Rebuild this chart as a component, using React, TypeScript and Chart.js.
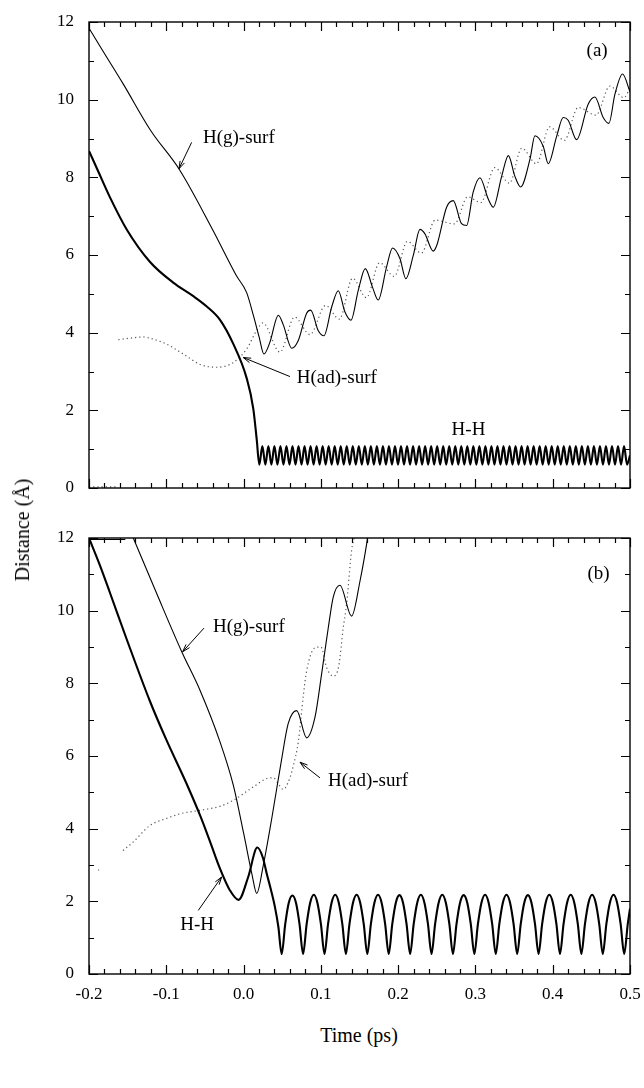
import React, { useEffect, useRef } from 'react';
import { Chart, registerables } from 'chart.js';
Chart.register(...registerables);

const FONT = "'Liberation Serif', 'Times New Roman', serif";

// ---------- Panel (a) ----------
const A_HG: [number, number][] = [
  [-0.2, 11.84], [-0.185, 11.35], [-0.1556, 10.4], [-0.12, 9.2], [-0.0827, 8.19], [-0.04, 6.65],
  [-0.0094, 5.47], [0.004, 5.03], [0.0126, 4.45], [0.02, 3.9], [0.0264, 3.45], [0.034, 3.75],
  [0.045, 4.45], [0.0514, 4.2], [0.0622, 3.6], [0.0708, 3.8], [0.0816, 4.5], [0.0868, 4.58],
  [0.0967, 4.05], [0.104, 3.92], [0.114, 4.66], [0.1225, 5.08], [0.1312, 4.53], [0.139, 4.32],
  [0.1484, 5.09], [0.1575, 5.65], [0.167, 5.16], [0.1742, 4.84], [0.185, 5.69], [0.1928, 6.18],
  [0.2023, 5.91], [0.21, 5.39], [0.2196, 5.99], [0.2282, 6.66], [0.2345, 6.55], [0.2454, 6.1],
  [0.25, 6.25], [0.2627, 7.23], [0.2713, 7.4], [0.282, 6.81], [0.2886, 6.76], [0.297, 7.61],
  [0.3058, 7.99], [0.3166, 7.44], [0.3231, 7.23], [0.334, 8.03], [0.3426, 8.56], [0.351, 8.03],
  [0.3585, 7.75], [0.3705, 8.46], [0.377, 9.07], [0.3877, 8.8], [0.3942, 8.35], [0.405, 9.05],
  [0.4136, 9.54], [0.42, 9.47], [0.431, 8.97], [0.446, 9.89], [0.4546, 10.07], [0.4653, 9.54],
  [0.4727, 9.39], [0.4805, 10.14], [0.4904, 10.66], [0.5, 10.2],
];

const A_AD: [number, number | null][] = [
  [-0.2, 0.03], [-0.165, 0.03], [-0.164, null], [-0.162, 3.82], [-0.146, 3.86], [-0.13, 3.89],
  [-0.115, 3.82], [-0.1, 3.71], [-0.078, 3.45], [-0.056, 3.18], [-0.035, 3.11], [-0.0133, 3.23],
  [0.004, 3.58], [0.017, 4.06], [0.025, 4.25], [0.047, 3.5], [0.066, 4.4], [0.086, 3.95],
  [0.106, 4.7], [0.124, 4.35], [0.141, 5.4], [0.159, 4.9], [0.176, 5.8], [0.195, 5.45],
  [0.212, 6.35], [0.23, 6.05], [0.248, 6.9], [0.273, 6.8], [0.29, 7.5], [0.307, 7.35],
  [0.325, 8.25], [0.344, 7.85], [0.36, 8.75], [0.379, 8.35], [0.396, 9.3], [0.415, 8.95],
  [0.433, 9.8], [0.456, 9.6], [0.474, 10.35], [0.492, 10.05], [0.5, 10.3],
];

const A_HH_PRE: [number, number][] = [
  [-0.2, 8.68], [-0.188, 8.15], [-0.173, 7.49], [-0.151, 6.65], [-0.121, 5.82], [-0.091, 5.29],
  [-0.065, 4.94], [-0.048, 4.68], [-0.0305, 4.33], [-0.0133, 3.71], [0.004, 2.83], [0.0126, 2.04],
  [0.017, 1.25],
];

const A_HH_OSC_T = [
  0.0204, 0.0243, 0.0282, 0.0321, 0.0360, 0.0399, 0.0438, 0.0477, 0.0516, 0.0555,
  0.0594, 0.0633, 0.0672, 0.0711, 0.0750, 0.0789, 0.0828, 0.0867, 0.0906, 0.0945,
  0.0984, 0.1023, 0.1062, 0.1101, 0.1140, 0.1179, 0.1218, 0.1257, 0.1296, 0.1335,
  0.1374, 0.1413, 0.1452, 0.1491, 0.1530, 0.1569, 0.1608, 0.1647, 0.1686, 0.1725,
  0.1764, 0.1803, 0.1842, 0.1881, 0.1920, 0.1959, 0.1998, 0.2037, 0.2076, 0.2115,
  0.2154, 0.2193, 0.2232, 0.2271, 0.2310, 0.2349, 0.2388, 0.2427, 0.2466, 0.2505,
  0.2544, 0.2583, 0.2622, 0.2661, 0.2700, 0.2739, 0.2778, 0.2817, 0.2856, 0.2895,
  0.2934, 0.2973, 0.3012, 0.3051, 0.3090, 0.3129, 0.3168, 0.3207, 0.3246, 0.3285,
  0.3324, 0.3363, 0.3402, 0.3441, 0.3480, 0.3519, 0.3558, 0.3597, 0.3636, 0.3675,
  0.3714, 0.3753, 0.3792, 0.3831, 0.3870, 0.3909, 0.3948, 0.3987, 0.4026, 0.4065,
  0.4104, 0.4143, 0.4182, 0.4221, 0.4260, 0.4299, 0.4338, 0.4377, 0.4416, 0.4455,
  0.4494, 0.4533, 0.4572, 0.4611, 0.4650, 0.4689, 0.4728, 0.4767, 0.4806, 0.4845,
  0.4884, 0.4923, 0.4962, 0.5000,
];
const A_HH_OSC_D = [
  0.60, 1.08, 0.60, 1.08, 0.60, 1.08, 0.60, 1.08, 0.60, 1.08,
  0.60, 1.08, 0.60, 1.08, 0.60, 1.08, 0.60, 1.08, 0.60, 1.08,
  0.60, 1.08, 0.60, 1.08, 0.60, 1.08, 0.60, 1.08, 0.60, 1.08,
  0.60, 1.08, 0.60, 1.08, 0.60, 1.08, 0.60, 1.08, 0.60, 1.08,
  0.60, 1.08, 0.60, 1.08, 0.60, 1.08, 0.60, 1.08, 0.60, 1.08,
  0.60, 1.08, 0.60, 1.08, 0.60, 1.08, 0.60, 1.08, 0.60, 1.08,
  0.60, 1.08, 0.60, 1.08, 0.60, 1.08, 0.60, 1.08, 0.60, 1.08,
  0.60, 1.08, 0.60, 1.08, 0.60, 1.08, 0.60, 1.08, 0.60, 1.08,
  0.60, 1.08, 0.60, 1.08, 0.60, 1.08, 0.60, 1.08, 0.60, 1.08,
  0.60, 1.08, 0.60, 1.08, 0.60, 1.08, 0.60, 1.08, 0.60, 1.08,
  0.60, 1.08, 0.60, 1.08, 0.60, 1.08, 0.60, 1.08, 0.60, 1.08,
  0.60, 1.08, 0.60, 1.08, 0.60, 1.08, 0.60, 1.08, 0.60, 1.08,
  0.60, 1.08, 0.60, 0.84,
];

// ---------- Panel (b) ----------
const B_HG: [number, number | null][] = [
  [-0.2, 11.96], [-0.153, 11.96], [-0.1525, null], [-0.1427, 12.0], [-0.112, 10.45], [-0.08, 8.87],
  [-0.056, 7.79], [-0.0305, 6.39], [-0.0133, 5.2], [0.0004, 3.84], [0.011, 2.73], [0.017, 2.22],
  [0.0255, 2.99], [0.0363, 4.26], [0.049, 5.88], [0.0578, 6.9], [0.0687, 7.25], [0.0816, 6.5],
  [0.0924, 7.07], [0.101, 8.26], [0.1096, 9.53], [0.1161, 10.38], [0.1247, 10.7], [0.1398, 9.85],
  [0.1506, 10.81], [0.1592, 11.83], [0.161, 12.1],
];

const B_AD: [number, number | null][] = [
  [-0.188, 2.85], [-0.1872, 2.87], [-0.187, null], [-0.156, 3.4], [-0.143, 3.63], [-0.121, 4.09],
  [-0.1, 4.28], [-0.082, 4.41], [-0.052, 4.52], [-0.03, 4.62], [-0.0133, 4.78], [0.0126, 5.15],
  [0.03, 5.38], [0.0385, 5.4], [0.046, 5.2], [0.0514, 5.08], [0.0536, 5.11], [0.06, 5.4],
  [0.064, 5.7], [0.0708, 6.39], [0.0773, 7.66], [0.0816, 8.34], [0.0924, 8.98], [0.1, 9.0],
  [0.1075, 8.43], [0.116, 8.2], [0.123, 8.46], [0.129, 9.53], [0.1334, 10.2], [0.1398, 11.66],
  [0.1445, 12.1],
];

const B_HH_PRE: [number, number][] = [
  [-0.2, 12.0], [-0.185, 11.2], [-0.173, 10.5], [-0.151, 9.2], [-0.121, 7.5], [-0.1, 6.45],
  [-0.074, 5.25], [-0.056, 4.35], [-0.0435, 3.65], [-0.0305, 2.9], [-0.0176, 2.3], [-0.0065, 2.04],
  [0.006, 2.67], [0.0178, 3.48], [0.025, 3.2], [0.03, 2.76], [0.035, 2.35], [0.0406, 1.84],
  [0.045, 1.3],
];

const B_HH_OSC_T = [
  0.0493, 0.0539, 0.0585, 0.0632, 0.0678, 0.0724,
  0.0770, 0.0816, 0.0862, 0.0909, 0.0955, 0.1001,
  0.1047, 0.1093, 0.1139, 0.1186, 0.1232, 0.1278,
  0.1324, 0.1370, 0.1416, 0.1463, 0.1509, 0.1555,
  0.1601, 0.1647, 0.1693, 0.1740, 0.1786, 0.1832,
  0.1878, 0.1924, 0.1970, 0.2017, 0.2063, 0.2109,
  0.2155, 0.2201, 0.2247, 0.2294, 0.2340, 0.2386,
  0.2432, 0.2478, 0.2524, 0.2571, 0.2617, 0.2663,
  0.2709, 0.2755, 0.2801, 0.2848, 0.2894, 0.2940,
  0.2986, 0.3032, 0.3078, 0.3125, 0.3171, 0.3217,
  0.3263, 0.3309, 0.3355, 0.3402, 0.3448, 0.3494,
  0.3540, 0.3586, 0.3632, 0.3679, 0.3725, 0.3771,
  0.3817, 0.3863, 0.3909, 0.3956, 0.4002, 0.4048,
  0.4094, 0.4140, 0.4186, 0.4233, 0.4279, 0.4325,
  0.4371, 0.4417, 0.4463, 0.4510, 0.4556, 0.4602,
  0.4648, 0.4694, 0.4740, 0.4787, 0.4833, 0.4879,
  0.4925, 0.4971, 0.5000,
];
const B_HH_OSC_D = [
  0.55, 1.37, 1.96, 2.16, 1.96, 1.37,
  0.55, 1.37, 1.96, 2.18, 1.96, 1.37,
  0.55, 1.37, 1.96, 2.18, 1.96, 1.37,
  0.55, 1.37, 1.96, 2.18, 1.96, 1.37,
  0.55, 1.37, 1.96, 2.18, 1.96, 1.37,
  0.55, 1.37, 1.96, 2.17, 1.96, 1.37,
  0.55, 1.37, 1.96, 2.18, 1.96, 1.37,
  0.55, 1.37, 1.96, 2.18, 1.96, 1.37,
  0.55, 1.37, 1.96, 2.17, 1.96, 1.37,
  0.55, 1.37, 1.96, 2.18, 1.96, 1.37,
  0.55, 1.37, 1.96, 2.18, 1.96, 1.37,
  0.55, 1.37, 1.96, 2.17, 1.96, 1.37,
  0.55, 1.37, 1.96, 2.18, 1.96, 1.37,
  0.55, 1.37, 1.96, 2.18, 1.96, 1.37,
  0.55, 1.37, 1.96, 2.18, 1.96, 1.37,
  0.55, 1.37, 1.96, 2.18, 1.96, 1.37,
  0.55, 1.37, 1.80,
];

const X_MIN = -0.2, X_MAX = 0.5, Y_MIN = 0, Y_MAX = 12;
const X_MINOR_STEP = 0.02, X_MAJOR_EVERY = 5;
const Y_MINOR_STEP = 1, Y_MAJOR_EVERY = 2;

const toXY = (p: [number, number | null][]) => p.map(([x, y]) => ({ x, y }));
const zipXY = (t: number[], d: number[]) => t.map((x, i) => ({ x, y: d[i] }));

const isMajorX = (v: number) => Math.abs(v * 10 - Math.round(v * 10)) < 1e-6;
const isMajorY = (v: number) => Math.abs(v / 2 - Math.round(v / 2)) < 1e-6;

const framePlugin = {
  id: 'frame',
  afterDraw(chart: any) {
    const { ctx, chartArea, scales } = chart;
    const { left, right, top, bottom } = chartArea;
    const xs = scales.x, ys = scales.y;
    ctx.save();
    ctx.strokeStyle = '#000';
    ctx.lineWidth = 1.4;
    ctx.strokeRect(left, top, right - left, bottom - top);
    ctx.lineWidth = 1.2;
    ctx.beginPath();
    const nx = Math.round((X_MAX - X_MIN) / X_MINOR_STEP);
    for (let k = 0; k <= nx; k++) {
      const v = X_MIN + k * X_MINOR_STEP;
      const px = Math.round(xs.getPixelForValue(v)) + 0.5;
      const len = k % X_MAJOR_EVERY === 0 ? 9 : 5;
      ctx.moveTo(px, bottom); ctx.lineTo(px, bottom - len);
      ctx.moveTo(px, top); ctx.lineTo(px, top + len);
    }
    const ny = Math.round((Y_MAX - Y_MIN) / Y_MINOR_STEP);
    for (let k = 0; k <= ny; k++) {
      const v = Y_MIN + k * Y_MINOR_STEP;
      const py = Math.round(ys.getPixelForValue(v)) + 0.5;
      const len = k % Y_MAJOR_EVERY === 0 ? 9 : 5;
      ctx.moveTo(left, py); ctx.lineTo(left + len, py);
      ctx.moveTo(right, py); ctx.lineTo(right - len, py);
    }
    ctx.stroke();
    ctx.restore();
  },
};

const annotPlugin = {
  id: 'annot',
  afterDraw(chart: any) {
    const opts = chart.options.plugins.annot || {};
    const { ctx, scales } = chart;
    const x = scales.x, y = scales.y;
    ctx.save();
    ctx.fillStyle = '#000';
    ctx.strokeStyle = '#000';
    ctx.lineWidth = 1;
    ctx.font = `19px ${FONT}`;
    ctx.textBaseline = 'middle';
    (opts.labels || []).forEach((l: any) => {
      ctx.textAlign = l.align || 'left';
      ctx.fillText(l.text, x.getPixelForValue(l.t), y.getPixelForValue(l.d));
    });
    (opts.arrows || []).forEach((a: any) => {
      const x1 = x.getPixelForValue(a.t1), y1 = y.getPixelForValue(a.d1);
      const x2 = x.getPixelForValue(a.t2), y2 = y.getPixelForValue(a.d2);
      ctx.beginPath();
      ctx.moveTo(x1, y1); ctx.lineTo(x2, y2);
      const ang = Math.atan2(y2 - y1, x2 - x1);
      const L = 8, w = 0.3;
      ctx.moveTo(x2, y2); ctx.lineTo(x2 - L * Math.cos(ang - w), y2 - L * Math.sin(ang - w));
      ctx.moveTo(x2, y2); ctx.lineTo(x2 - L * Math.cos(ang + w), y2 - L * Math.sin(ang + w));
      ctx.stroke();
    });
    ctx.restore();
  },
};

function makeConfig(datasets: any[], padTop: number, xHeight: number, showX: boolean, annot: any) {
  return {
    type: 'line',
    data: { datasets },
    options: {
      responsive: false,
      maintainAspectRatio: false,
      animation: false,
      devicePixelRatio: 1,
      layout: { padding: { left: 0, right: 14, top: padTop, bottom: 0 } },
      elements: { point: { radius: 0 }, line: { cubicInterpolationMode: 'monotone' } },
      plugins: { legend: { display: false }, tooltip: { enabled: false }, annot },
      scales: {
        x: {
          type: 'linear', min: X_MIN, max: X_MAX,
          grid: { display: false, drawTicks: true, tickLength: 10 }, border: { display: false },
          ticks: {
            stepSize: X_MINOR_STEP, autoSkip: false, maxRotation: 0, padding: 0, color: '#000',
            font: { family: FONT, size: 17 },
            callback: (v: number) => (showX && isMajorX(v) ? v.toFixed(1) : ''),
          },
          afterFit: (s: any) => { s.height = xHeight; },
        },
        y: {
          type: 'linear', min: Y_MIN, max: Y_MAX,
          grid: { display: false, drawTicks: true, tickLength: 15 }, border: { display: false },
          ticks: {
            stepSize: Y_MINOR_STEP, autoSkip: false, padding: 0, color: '#000',
            font: { family: FONT, size: 17 },
            callback: (v: number) => (isMajorY(v) ? String(Math.round(v)) : ''),
          },
          afterFit: (s: any) => { s.width = 89; },
        },
      },
    },
    plugins: [framePlugin, annotPlugin],
  };
}

const thick = { borderColor: '#000', borderWidth: 2.1, pointRadius: 0, fill: false };
const thin = { borderColor: '#000', borderWidth: 1.1, pointRadius: 0, fill: false };
const dotted = { borderColor: '#555', borderWidth: 1.2, borderDash: [1.2, 3], pointRadius: 0, fill: false };

export default function App() {
  const refA = useRef<HTMLCanvasElement>(null);
  const refB = useRef<HTMLCanvasElement>(null);

  useEffect(() => {
    const dsA = [
      { ...thick, label: 'H-H', data: [...toXY(A_HH_PRE), ...zipXY(A_HH_OSC_T, A_HH_OSC_D)] },
      { ...thin, label: 'H(g)-surf', data: toXY(A_HG) },
      { ...dotted, label: 'H(ad)-surf', data: toXY(A_AD) },
    ];
    const annA = {
      labels: [
        { text: 'H(g)-surf', t: -0.0525, d: 9.0 },
        { text: 'H(ad)-surf', t: 0.0687, d: 2.83 },
        { text: 'H-H', t: 0.291, d: 1.5, align: 'center' },
        { text: '(a)', t: 0.4575, d: 11.25, align: 'center' },
      ],
      arrows: [
        { t1: -0.0672, d1: 8.9, t2: -0.0836, d2: 8.22 },
        { t1: 0.06, d1: 2.87, t2: -0.0004, d2: 3.36 },
      ],
    };
    const dsB = [
      { ...thick, label: 'H-H', data: [...toXY(B_HH_PRE), ...zipXY(B_HH_OSC_T, B_HH_OSC_D)] },
      { ...thin, label: 'H(g)-surf', data: toXY(B_HG) },
      { ...dotted, label: 'H(ad)-surf', data: toXY(B_AD) },
    ];
    const annB = {
      labels: [
        { text: 'H(g)-surf', t: -0.0396, d: 9.54 },
        { text: 'H(ad)-surf', t: 0.1092, d: 5.3 },
        { text: 'H-H', t: -0.06, d: 1.34, align: 'center' },
        { text: '(b)', t: 0.4594, d: 11.0, align: 'center' },
      ],
      arrows: [
        { t1: -0.0512, d1: 9.52, t2: -0.0788, d2: 8.87 },
        { t1: 0.0988, d1: 5.4, t2: 0.073, d2: 5.83 },
        { t1: -0.0586, d1: 1.75, t2: -0.0284, d2: 2.67 },
      ],
    };
    const ca = new Chart(refA.current as any, makeConfig(dsA, 22, 12, false, annA) as any);
    const cb = new Chart(refB.current as any, makeConfig(dsB, 18, 46, true, annB) as any);
    return () => { ca.destroy(); cb.destroy(); };
  }, []);

  return (
    <div style={{ position: 'absolute', left: 0, top: 0, width: 644, height: 1088, background: '#fff', overflow: 'hidden' }}>
      <canvas ref={refA} width={644} height={500} style={{ position: 'absolute', left: 0, top: 0, width: 644, height: 500 }} />
      <canvas ref={refB} width={644} height={500} style={{ position: 'absolute', left: 0, top: 520, width: 644, height: 500 }} />
      <div style={{
        position: 'absolute', left: 22, top: 530, transform: 'translate(-50%, -50%) rotate(-90deg)',
        whiteSpace: 'nowrap', fontFamily: FONT, fontSize: 20, color: '#000', lineHeight: 1,
      }}>Distance (Å)</div>
      <div style={{
        position: 'absolute', left: 359, top: 1035, transform: 'translate(-50%, -50%)',
        whiteSpace: 'nowrap', fontFamily: FONT, fontSize: 20, color: '#000', lineHeight: 1,
      }}>Time (ps)</div>
    </div>
  );
}
